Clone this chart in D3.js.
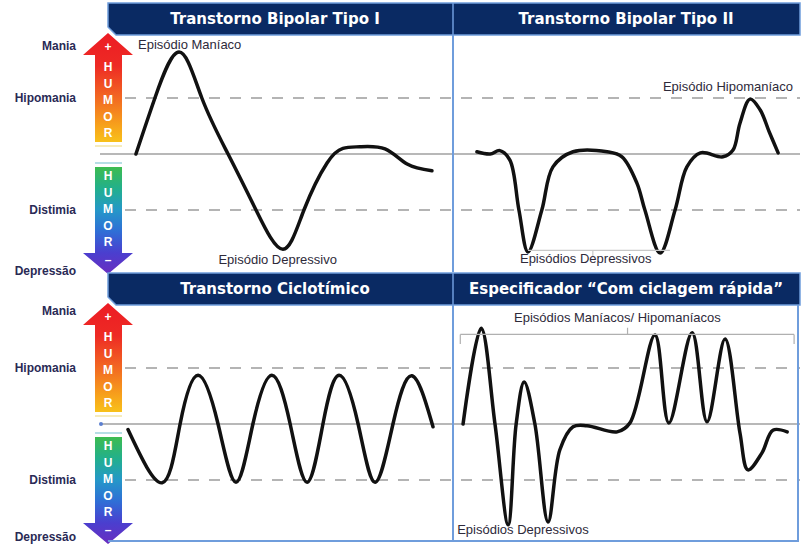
<!DOCTYPE html>
<html><head><meta charset="utf-8">
<script src="https://cdn.jsdelivr.net/npm/d3@7"></script>
<style>body{margin:0;background:#fff}svg{display:block}</style>
</head><body>
<script>
// ---------- DATA ----------
const panelTitles = ["Transtorno Bipolar Tipo I", "Transtorno Bipolar Tipo II", "Transtorno Ciclotímico", "Especificador “Com ciclagem rápida”"];
const moodLabels = ["Mania", "Hipomania", "Distimia", "Depressão"];
const arrowUpLetters = ["+", "H", "U", "M", "O", "R"];
const arrowDownLetters = ["H", "U", "M", "O", "R", "–"];
const annotationLabels = ["Episódio Maníaco", "Episódio Depressivo", "Episódio Hipomaníaco", "Episódios Depressivos", "Episódios Maníacos/ Hipomaníacos", "Episódios Depressivos"];

// time (0-100 across a panel) and mood (0 = eutimia, +1 = hipomania, -1 = distimia)
const bipolarITime = [8.1, 13.6, 20.6, 27.2, 34.8, 42.9, 50.7, 56.8, 63.5, 68.1, 73.0, 80.3, 86.7, 93.9];
const bipolarIMood = [0, 1.0, 1.82, 1.0, 0, -1.0, -1.7, -1.0, -0.16, 0.1, 0.13, 0.09, -0.18, -0.3];

const bipolarIITime = [6.9, 10.7, 13.5, 16.4, 19.0, 21.6, 25.6, 28.8, 34.6, 44.4, 48.7, 53.0, 55.3, 59.7, 64.0, 67.4, 71.3, 77.8, 80.7, 82.7, 85.6, 88.5, 91.1, 93.7];
const bipolarIIMood = [0.04, 0, 0.06, -0.11, -1.0, -1.75, -1.0, -0.23, 0.04, 0.04, -0.05, -0.52, -1.0, -1.77, -1.0, -0.23, 0.02, -0.05, 0.07, 0.55, 0.98, 0.79, 0.4, 0.02];

const cyclothymicTime = [5.8, 15.7, 20.9, 26.1, 31.9, 37.1, 42.0, 47.5, 52.8, 57.7, 62.3, 67.0, 72.5, 77.4, 82.6, 88.1, 94.2];
const cyclothymicMood = [-0.1, -1.05, 0, 0.87, 0, -1.04, 0, 0.87, 0, -1.04, 0, 0.87, 0, -1.04, 0, 0.86, -0.05];

const rapidTime = [2.9, 8.1, 12.1, 15.9, 18.2, 20.5, 23.6, 27.4, 30.8, 34.6, 38.6, 47.3, 51.0, 58.2, 62.2, 68.9, 73.2, 78.4, 82.7, 85.0, 89.0, 92.2, 96.3];
const rapidMood = [0, 1.71, 0, -1.8, 0, 0.75, 0, -1.75, -0.46, -0.05, -0.03, -0.14, 0.02, 1.59, 0.02, 1.63, 0.04, 1.52, -0.16, -0.82, -0.52, -0.11, -0.14];

const seriesTime = [bipolarITime, bipolarIITime, cyclothymicTime, rapidTime];
const seriesMood = [bipolarIMood, bipolarIIMood, cyclothymicMood, rapidMood];

// ---------- DRAW ----------
const W = 807, H = 544;
const svg = d3.select("body").append("svg").attr("width", W).attr("height", H);
const defs = svg.append("defs");

const gUp = defs.append("linearGradient").attr("id", "gUp").attr("x1", 0).attr("y1", 0).attr("x2", 0).attr("y2", 1);
[["0%", "#ec1c24"], ["30%", "#ee2a24"], ["60%", "#f26a22"], ["85%", "#f7a21b"], ["100%", "#f8c11a"]]
  .forEach(s => gUp.append("stop").attr("offset", s[0]).attr("stop-color", s[1]));
const gDown = defs.append("linearGradient").attr("id", "gDown").attr("x1", 0).attr("y1", 0).attr("x2", 0).attr("y2", 1);
[["0%", "#3dbb4f"], ["20%", "#22b08c"], ["40%", "#2598c8"], ["60%", "#2f6fd6"], ["80%", "#4a3fcf"], ["100%", "#6a2ec0"]]
  .forEach(s => gDown.append("stop").attr("offset", s[0]).attr("stop-color", s[1]));

const xCols = [d3.scaleLinear().domain([0, 100]).range([108, 453]),
               d3.scaleLinear().domain([0, 100]).range([453, 800])];
const halfOffsets = [0, 270];
const yScales = halfOffsets.map(o => d3.scaleLinear().domain([-1, 1]).range([o + 210, o + 98]));

const navy = "#0a2a63", lightBlue = "#6f9ddc";

halfOffsets.forEach((o, r) => {
  const y = yScales[r];
  const g = svg.append("g");

  // reference lines
  g.append("line").attr("x1", 100).attr("x2", 800).attr("y1", y(0)).attr("y2", y(0))
    .attr("stroke", "#a0a0a0").attr("stroke-width", 1.5);
  [1, -1].forEach(v => g.append("line").attr("x1", 125).attr("x2", 800).attr("y1", y(v)).attr("y2", y(v))
    .attr("stroke", "#b4b4b4").attr("stroke-width", 2).attr("stroke-dasharray", "11,10"));

  // vertical divider
  g.append("line").attr("x1", 453).attr("x2", 453).attr("y1", o + 35).attr("y2", o + 272)
    .attr("stroke", lightBlue).attr("stroke-width", 2);

  // header
  const hp = d3.path();
  hp.moveTo(108, o + 3); hp.lineTo(800, o + 3); hp.lineTo(800, o + 35); hp.lineTo(116, o + 35); hp.lineTo(108, o + 27); hp.closePath();
  g.append("path").attr("d", hp.toString()).attr("fill", navy).attr("stroke", lightBlue).attr("stroke-width", 1.5);
  g.append("line").attr("x1", 453).attr("x2", 453).attr("y1", o + 3).attr("y2", o + 35)
    .attr("stroke", lightBlue).attr("stroke-width", 1.5);
  [0, 1].forEach(c => {
    g.append("text").attr("x", c === 0 ? 275 : 626).attr("y", o + 19).attr("text-anchor", "middle")
      .attr("dominant-baseline", "central").attr("fill", "#fff")
      .style("font", "bold 15px 'DejaVu Sans', Verdana, sans-serif")
      .text(panelTitles[r * 2 + c]);
  });

  // humor arrows
  const up = d3.path();
  up.moveTo(108, o + 33); up.lineTo(133, o + 55); up.lineTo(122, o + 55); up.lineTo(122, o + 142);
  up.lineTo(95, o + 142); up.lineTo(95, o + 55); up.lineTo(83, o + 55); up.closePath();
  g.append("path").attr("d", up.toString()).attr("fill", "url(#gUp)");
  const dn = d3.path();
  dn.moveTo(95, o + 167); dn.lineTo(122, o + 167); dn.lineTo(122, o + 253); dn.lineTo(133, o + 253);
  dn.lineTo(108, o + 274); dn.lineTo(83, o + 253); dn.lineTo(95, o + 253); dn.closePath();
  g.append("path").attr("d", dn.toString()).attr("fill", "url(#gDown)");
  g.append("line").attr("x1", 95).attr("x2", 122).attr("y1", o + 146).attr("y2", o + 146).attr("stroke", "#f3e6a6").attr("stroke-width", 1.5);
  g.append("line").attr("x1", 95).attr("x2", 122).attr("y1", o + 163).attr("y2", o + 163).attr("stroke", "#9fd3dc").attr("stroke-width", 1.5);
  if (r === 1) g.append("circle").attr("cx", 101).attr("cy", y(0)).attr("r", 2).attr("fill", "#5b7fd0");

  const upY = [47, 67, 83.5, 100, 116.5, 133];
  const dnY = [176, 193, 209, 226, 242, 260];
  const letterFont = "bold 12px 'Liberation Sans', Arial, sans-serif";
  arrowUpLetters.forEach((L, i) => g.append("text").attr("x", 108).attr("y", o + upY[i]).attr("text-anchor", "middle")
    .attr("dominant-baseline", "central").attr("fill", "#fff").style("font", letterFont).text(L));
  arrowDownLetters.forEach((L, i) => g.append("text").attr("x", 108).attr("y", o + dnY[i]).attr("text-anchor", "middle")
    .attr("dominant-baseline", "central").attr("fill", "#fff").style("font", letterFont).text(L));

  // left mood labels
  const labelY = [r === 0 ? o + 46 : o + 41, y(1), y(-1), r === 0 ? o + 271 : o + 267];
  moodLabels.forEach((L, i) => g.append("text").attr("x", 76).attr("y", labelY[i]).attr("text-anchor", "end")
    .attr("dominant-baseline", "central").attr("fill", "#2a2a55")
    .style("font", "bold 12px 'Liberation Sans', Arial, sans-serif").text(L));
});

// bottom panels frame
svg.append("line").attr("x1", 108).attr("x2", 799).attr("y1", 541).attr("y2", 541).attr("stroke", lightBlue).attr("stroke-width", 2);
svg.append("line").attr("x1", 798).attr("x2", 798).attr("y1", 305).attr("y2", 541).attr("stroke", lightBlue).attr("stroke-width", 2);

// curves
const curves = [d3.curveNatural, d3.curveCatmullRom.alpha(0.5), d3.curveNatural, d3.curveCatmullRom.alpha(0.5)];
seriesTime.forEach((ts, i) => {
  const r = Math.floor(i / 2), c = i % 2;
  const x = xCols[c], y = yScales[r];
  const pts = ts.map((t, k) => [x(t), y(seriesMood[i][k])]);
  const line = d3.line().curve(curves[i]);
  svg.append("path").attr("d", line(pts)).attr("fill", "none").attr("stroke", "#111")
    .attr("stroke-width", 3.5).attr("stroke-linejoin", "round").attr("stroke-linecap", "round");
});

// brackets
const br = d3.path();
br.moveTo(xCols[1](2.1), yScales[1](1.6)); br.lineTo(xCols[1](98.3), yScales[1](1.6));
br.moveTo(xCols[1](2.1), yScales[1](1.6)); br.lineTo(xCols[1](2.1), yScales[1](1.43));
br.moveTo(xCols[1](98.3), yScales[1](1.6)); br.lineTo(xCols[1](98.3), yScales[1](1.43));
br.moveTo(xCols[1](50.3), yScales[1](1.6)); br.lineTo(xCols[1](50.3), yScales[1](1.72));
svg.append("path").attr("d", br.toString()).attr("fill", "none").attr("stroke", "#b0b0b0").attr("stroke-width", 1.2);
const br2 = d3.path();
br2.moveTo(xCols[1](21.6), yScales[0](-1.72)); br2.lineTo(xCols[1](62.5), yScales[0](-1.72));
br2.moveTo(xCols[1](40.3), yScales[0](-1.72)); br2.lineTo(xCols[1](40.3), yScales[0](-1.85));
svg.append("path").attr("d", br2.toString()).attr("fill", "none").attr("stroke", "#c8c8c8").attr("stroke-width", 1.2);

// annotations
const annFont = "13px 'Liberation Sans', Arial, sans-serif";
const ann = [
  {x: xCols[0](8.7), y: yScales[0](1.95), a: "start"},
  {x: xCols[0](32), y: yScales[0](-1.89), a: "start"},
  {x: xCols[1](60.5), y: yScales[0](1.21), a: "start"},
  {x: xCols[1](19.3), y: yScales[0](-1.87), a: "start"},
  {x: xCols[1](17.6), y: yScales[1](1.91), a: "start"},
  {x: xCols[1](1.2), y: yScales[1](-1.88), a: "start"}
];
ann.forEach((d, i) => svg.append("text").attr("x", d.x).attr("y", d.y).attr("text-anchor", d.a)
  .attr("dominant-baseline", "central").attr("fill", "#2e2a3a").style("font", annFont).text(annotationLabels[i]));
</script>
</body></html>
